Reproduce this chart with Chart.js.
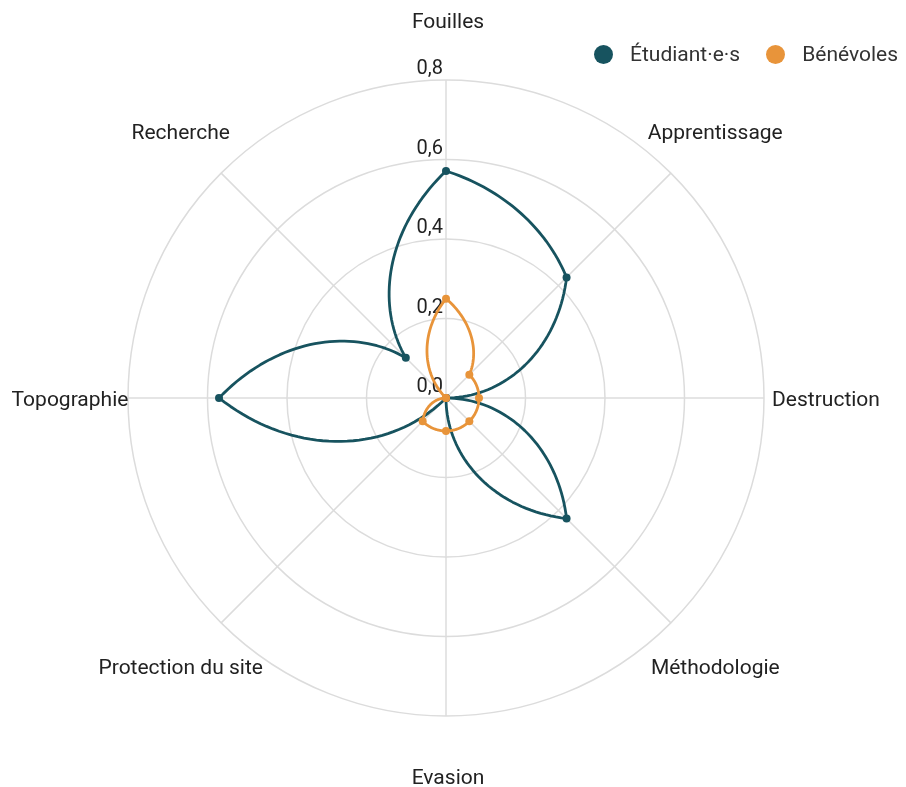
<!DOCTYPE html>
<html lang="fr">
<head>
<meta charset="utf-8">
<script src="https://cdn.jsdelivr.net/npm/chart.js@4.4.1/dist/chart.umd.min.js"></script>
<style>
  body { margin: 0; background: #fff; font-family: Roboto, sans-serif; }
  #wrap { position: relative; width: 906px; height: 787px; }
  #legend { position: absolute; top: 42px; left: 594px; display: flex; font-size: 21px; color: #333; }
  .item { display: flex; align-items: center; margin-right: 26px; }
  .dot { width: 19px; height: 19px; border-radius: 50%; margin-right: 17px; }
</style>
</head>
<body>
<div id="wrap">
  <canvas id="radar" width="906" height="787"></canvas>
  <div id="legend"></div>
</div>
<script>
const categories = ["Fouilles", "Apprentissage", "Destruction", "Méthodologie", "Evasion", "Protection du site", "Topographie", "Recherche"];
const etudiants = [0.571, 0.429, 0, 0.429, 0, 0, 0.571, 0.143];
const benevoles = [0.25, 0.083, 0.083, 0.083, 0.083, 0.083, 0, 0];
const tickValues = [0, 0.2, 0.4, 0.6, 0.8];
const tickLabels = ["0,0", "0,2", "0,4", "0,6", "0,8"];
const seriesNames = ["Étudiant·e·s", "Bénévoles"];
const colors = ["#17535f", "#e8943a"];

// the lines run in polar space (radius changes evenly with the angle),
// so each segment is traced through the radial scale instead of a straight line
function polarPath(ctx, s, values) {
  const n = values.length, steps = 40;
  ctx.beginPath();
  for (let i = 0; i < n; i++) {
    const a = values[i], b = values[(i + 1) % n];
    for (let k = 0; k <= steps; k++) {
      const t = k / steps;
      const p = s.getPointPositionForValue(i + t, a + (b - a) * t);
      if (i === 0 && k === 0) ctx.moveTo(p.x, p.y);
      else ctx.lineTo(p.x, p.y);
    }
  }
  ctx.closePath();
}

const radarText = {
  id: "radarText",
  beforeDatasetsDraw(chart) {
    const s = chart.scales.r, ctx = chart.ctx;
    ctx.save();
    ctx.font = "20px Roboto";
    ctx.fillStyle = "#222";
    ctx.textAlign = "right";
    ctx.textBaseline = "alphabetic";
    tickValues.forEach((v, i) => {
      const r = s.getDistanceFromCenterForValue(v);
      ctx.fillText(tickLabels[i], s.xCenter - 3, s.yCenter - r - 6);
    });
    ctx.restore();
  },
  beforeDatasetDraw(chart, args) {
    const s = chart.scales.r, ctx = chart.ctx;
    const ds = chart.data.datasets[args.index];
    ctx.save();
    ctx.strokeStyle = ds.borderColor;
    ctx.lineWidth = 2.8;
    ctx.lineJoin = "round";
    polarPath(ctx, s, ds.data);
    ctx.stroke();
    ctx.restore();
  },
  afterDraw(chart) {
    const s = chart.scales.r, ctx = chart.ctx;
    ctx.save();
    ctx.font = "21px Roboto";
    ctx.fillStyle = "#222";
    ctx.textAlign = "center";
    ctx.textBaseline = "middle";
    categories.forEach((c, i) => {
      const p = s.getPointPosition(i, s.drawingArea + 60);
      ctx.fillText(c, p.x + 2, p.y + 3);
    });
    ctx.restore();
  }
};

const chart = new Chart(document.getElementById("radar"), {
  type: "radar",
  data: {
    labels: categories,
    datasets: [
      { label: seriesNames[0], data: etudiants, borderColor: colors[0], backgroundColor: colors[0], order: 2 },
      { label: seriesNames[1], data: benevoles, borderColor: colors[1], backgroundColor: colors[1], order: 1 },
    ],
  },
  options: {
    responsive: false,
    animation: false,
    layout: { padding: { top: 80, bottom: 71, left: 0, right: 14 } },
    elements: {
      line: { borderWidth: 0, fill: false },
      point: { radius: 4, borderWidth: 0 },
    },
    plugins: { legend: { display: false }, tooltip: { enabled: false } },
    scales: {
      r: {
        min: 0,
        max: 0.8,
        ticks: { stepSize: 0.2, display: false },
        pointLabels: { display: false },
        grid: { circular: true, color: "#dcdcdc", lineWidth: 1.5 },
        angleLines: { color: "#dcdcdc", lineWidth: 1.5 },
      },
    },
  },
  plugins: [radarText],
});

const legend = document.getElementById("legend");
seriesNames.forEach((n, i) => {
  const it = document.createElement("div");
  it.className = "item";
  it.innerHTML = `<span class="dot" style="background:${colors[i]}"></span><span>${n}</span>`;
  legend.appendChild(it);
});
</script>
</body>
</html>
